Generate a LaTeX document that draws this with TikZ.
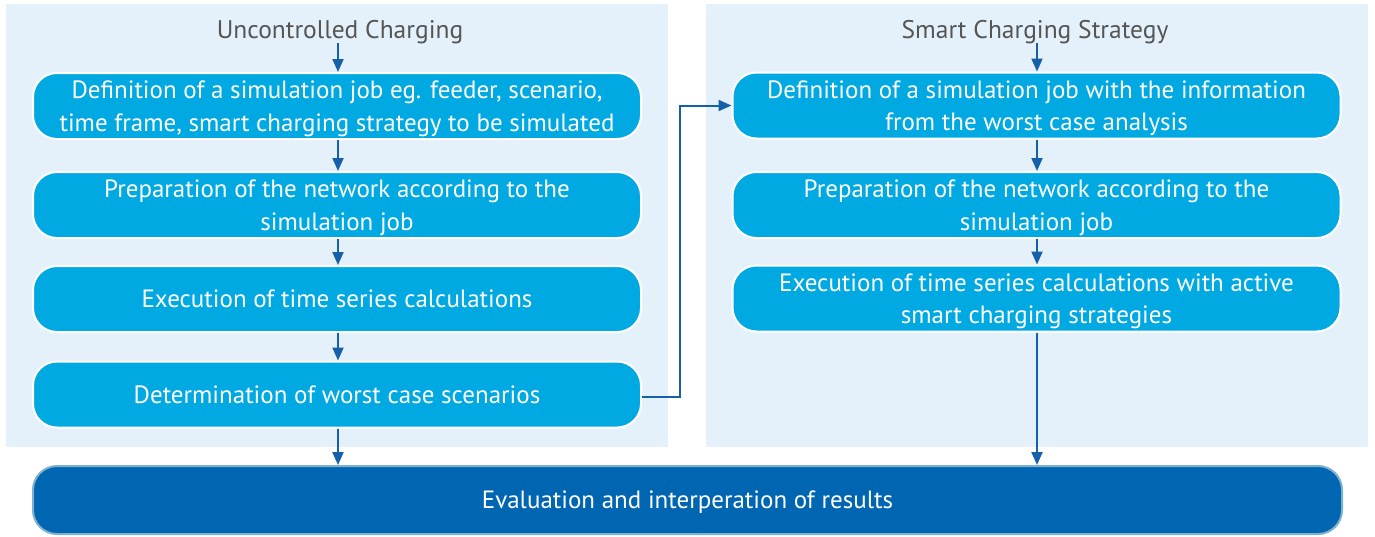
\documentclass[tikz,border=0pt]{standalone}
\usepackage{fontspec}
\setmainfont{PT Sans}
\usetikzlibrary{arrows.meta,positioning}
\definecolor{panel}{HTML}{E5F1FA}
\definecolor{boxc}{HTML}{00A9E2}
\definecolor{darkc}{HTML}{0066B2}
\definecolor{darkborder}{HTML}{7FB0CC}
\definecolor{arrowc}{HTML}{1560AA}
\definecolor{titlec}{HTML}{555555}
\tikzset{
  stepbox/.style={draw=white, line width=2pt, fill=boxc, rounded corners=24pt,
    minimum width=608pt, minimum height=66pt, text=white, align=center,
    font=\fontsize{25}{32.5}\selectfont, inner sep=0pt, text depth=0pt},
  finalbox/.style={draw=darkborder, line width=2pt, fill=darkc, rounded corners=24pt,
    minimum width=1309pt, minimum height=68pt, text=white, align=center,
    font=\fontsize{25}{32.5}\selectfont, inner sep=0pt, text depth=0pt},
  paneltitle/.style={text=titlec, font=\fontsize{25.5}{28}\selectfont, inner sep=0pt},
  flow/.style={draw=arrowc, line width=2pt, -{Triangle[length=13pt,width=11pt]}},
}
\begin{document}
\begin{tikzpicture}[x=1pt,y=-1pt]
\useasboundingbox (0,0) rectangle (1375,536);
\fill[white] (0,0) rectangle (1375,536);
\fill[panel] (6,4) rectangle (668,447);
\fill[panel] (706,4) rectangle (1368,447);

\node[paneltitle] (t1) at (340,32) {Uncontrolled Charging};
\node[paneltitle] (t2) at (1035,32) {Smart Charging Strategy};

\node[stepbox] (l1) at (337,106) {Definition of a simulation job eg. feeder, scenario,\\time frame, smart charging strategy to be simulated};
\node[stepbox] (l2) at (337,205) {Preparation of the network according to the\\simulation job};
\node[stepbox] (l3) at (337,299) {Execution of time series calculations};
\node[stepbox] (l4) at (337,394.5) {Determination of worst case scenarios};

\node[stepbox] (r1) at (1036.5,105.5) {Definition of a simulation job with the information\\from the worst case analysis};
\node[stepbox] (r2) at (1036.5,205) {Preparation of the network according to the\\simulation job};
\node[stepbox] (r3) at (1036.5,298.5) {Execution of time series calculations with active\\smart charging strategies};

\node[finalbox] (f) at (687.5,500) {Evaluation and interperation of results};

\coordinate (t1b) at (338,43);
\draw[flow] (t1b) -- (l1.north -| t1b);
\draw[flow] (l1.south -| t1b) -- (l2.north -| t1b);
\draw[flow] (l2.south -| t1b) -- (l3.north -| t1b);
\draw[flow] (l3.south -| t1b) -- (l4.north -| t1b);
\draw[flow] (l4.south -| t1b) -- (f.north -| t1b);

\coordinate (t2b) at (1037,43);
\draw[flow] (t2b) -- (r1.north -| t2b);
\draw[flow] (r1.south -| t2b) -- (r2.north -| t2b);
\draw[flow] (r2.south -| t2b) -- (r3.north -| t2b);
\draw[flow] (r3.south -| t2b) -- (f.north -| t2b);

\coordinate (bend) at (680,397);
\draw[flow] (l4.east |- bend) -- (bend) |- (r1.west);
\end{tikzpicture}
\end{document}
